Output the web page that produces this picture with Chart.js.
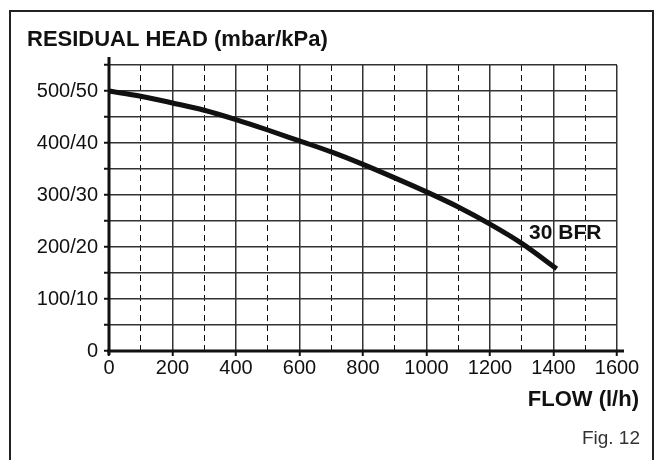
<!DOCTYPE html>
<html>
<head>
<meta charset="utf-8">
<script src="https://cdn.jsdelivr.net/npm/chart.js@4"></script>
<style>
  html, body { margin: 0; padding: 0; background: #fff; }
  #wrap { position: relative; width: 662px; height: 460px; overflow: hidden; }
  #frame {
    position: absolute; left: 9px; top: 10px; width: 645px; height: 480px;
    border: 2px solid #222; box-sizing: border-box;
  }
  #chart { position: absolute; left: 0; top: 0; }
</style>
</head>
<body>
<div id="wrap">
  <div id="frame"></div>
  <canvas id="chart" width="662" height="460"></canvas>
</div>
<script>
// pump curve 30 BFR
const FLOW = [0, 100, 200, 300, 400, 500, 600, 700, 800, 900, 1000, 1100, 1200, 1300, 1410];
const HEAD = [500, 490, 477, 463, 445, 425, 404, 383, 359, 333, 306, 277, 244, 207, 158];
const SERIES_NAME = "30 BFR";
const LABEL_AT = { x: 1323, y: 227 };

const X_MAJOR = [0, 200, 400, 600, 800, 1000, 1200, 1400, 1600];
const X_MINOR = [100, 300, 500, 700, 900, 1100, 1300, 1500];
const Y_TICKS = [0, 100, 200, 300, 400, 500];
const Y_TICK_LABELS = ["0", "100/10", "200/20", "300/30", "400/40", "500/50"];

const FONT = "'Liberation Sans', Arial, sans-serif";
const TICK_FONT = { family: FONT, size: 20 };

// thick axes, text outside the plot, curve label
const extras = {
  id: "extras",
  afterDraw(chart) {
    const { ctx, chartArea: a, scales } = chart;
    const x0 = scales.x.getPixelForValue(0);
    const y0 = scales.y.getPixelForValue(0);
    ctx.save();
    ctx.strokeStyle = "#111";
    ctx.lineWidth = 3;
    ctx.beginPath();
    ctx.moveTo(x0, y0 + 4);
    ctx.lineTo(x0, a.top - 8);
    ctx.moveTo(x0 - 2, y0);
    ctx.lineTo(a.right + 7, y0);
    ctx.stroke();

    ctx.fillStyle = "#111";
    ctx.textBaseline = "middle";
    ctx.textAlign = "left";
    ctx.font = "bold 21px " + FONT;
    ctx.fillText(SERIES_NAME, scales.x.getPixelForValue(LABEL_AT.x), scales.y.getPixelForValue(LABEL_AT.y));

    ctx.textAlign = "right";
    ctx.font = "bold 22px " + FONT;
    ctx.fillText("FLOW (l/h)", a.right + 22, 400);
    ctx.font = "19px " + FONT;
    ctx.fillStyle = "#333";
    ctx.fillText("Fig. 12", a.right + 23, 439);
    ctx.restore();
  },
};

new Chart(document.getElementById("chart"), {
  type: "scatter",
  data: {
    datasets: [
      {
        label: SERIES_NAME,
        data: FLOW.map((x, i) => ({ x, y: HEAD[i] })),
        showLine: true,
        borderColor: "#111",
        borderWidth: 5,
        pointRadius: 0,
        cubicInterpolationMode: "monotone",
      },
    ],
  },
  options: {
    responsive: false,
    animation: false,
    layout: { padding: { left: 27, right: 45, top: 0, bottom: 0 } },
    plugins: {
      legend: { display: false },
      tooltip: { enabled: false },
      title: {
        display: true,
        text: "RESIDUAL HEAD (mbar/kPa)",
        align: "start",
        color: "#111",
        font: { family: FONT, size: 22, weight: "bold" },
        padding: { top: 27, bottom: 11.6 },
      },
    },
    scales: {
      x: {
        type: "linear",
        min: 0,
        max: 1600,
        afterBuildTicks: (s) => { s.ticks = X_MAJOR.map((value) => ({ value })); },
        afterFit: (s) => { s.height = 109; },
        ticks: { color: "#111", font: TICK_FONT, padding: 0, maxRotation: 0, autoSkip: false, callback: (v) => String(v) },
        grid: { color: "#333", lineWidth: 1.5, tickLength: 5, tickColor: "#111", tickWidth: 2 },
        border: { display: false },
      },
      x2: {
        type: "linear",
        position: "bottom",
        min: 0,
        max: 1600,
        afterBuildTicks: (s) => { s.ticks = X_MINOR.map((value) => ({ value })); },
        ticks: { display: false },
        grid: { color: "#111", lineWidth: 1, drawTicks: false },
        border: { display: false, dash: [6, 4] },
      },
      y: {
        min: 0,
        max: 550,
        ticks: {
          stepSize: 50,
          autoSkip: false,
          color: "#111",
          font: TICK_FONT,
          padding: 6,
          callback: (v) => {
            const i = Y_TICKS.indexOf(v);
            return i >= 0 ? Y_TICK_LABELS[i] : "";
          },
        },
        afterFit: (s) => { s.width = 82; },
        grid: { color: "#333", lineWidth: 1.5, tickLength: 5, tickColor: "#111", tickWidth: 2 },
        border: { display: false },
      },
    },
  },
  plugins: [extras],
});
</script>
</body>
</html>
